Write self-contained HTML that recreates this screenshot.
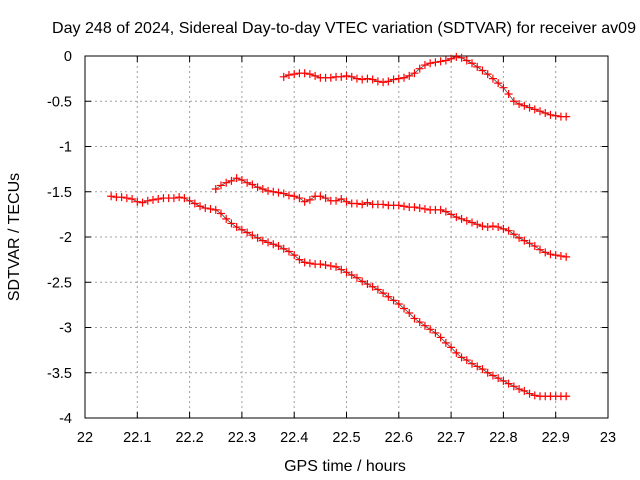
<!DOCTYPE html>
<html><head><meta charset="utf-8"><style>
body{margin:0;background:#fff}
svg{display:block;font-family:"Liberation Sans",sans-serif}
</style></head><body>
<svg id="chart" width="640" height="480" viewBox="0 0 640 480">
<rect width="640" height="480" fill="#fff"/>
<g id="grid"></g>
<g id="axes"></g>
<g id="marks"></g>
<text x="344" y="33" text-anchor="middle" font-size="16" textLength="584" lengthAdjust="spacingAndGlyphs">Day 248 of 2024, Sidereal Day-to-day VTEC variation (SDTVAR) for receiver av09</text>
<text x="345" y="471" text-anchor="middle" font-size="16">GPS time / hours</text>
<text transform="translate(19,237) rotate(-90)" text-anchor="middle" font-size="16">SDTVAR / TECUs</text>
</svg>
<script>
const xTicks=[22,22.1,22.2,22.3,22.4,22.5,22.6,22.7,22.8,22.9,23];
const xTickLabels=["22","22.1","22.2","22.3","22.4","22.5","22.6","22.7","22.8","22.9","23"];
const yTicks=[0,-0.5,-1,-1.5,-2,-2.5,-3,-3.5,-4];
const yTickLabels=["0","-0.5","-1","-1.5","-2","-2.5","-3","-3.5","-4"];
const topX=[22.38,22.39,22.40,22.41,22.42,22.43,22.44,22.45,22.46,22.47,22.48,22.49,22.50,22.51,22.52,22.53,22.54,22.55,22.56,22.57,22.58,22.59,22.60,22.61,22.62,22.63,22.64,22.65,22.66,22.67,22.68,22.69,22.70,22.71,22.72,22.73,22.74,22.75,22.76,22.77,22.78,22.79,22.80,22.81,22.82,22.83,22.84,22.85,22.86,22.87,22.88,22.89,22.90,22.91,22.92];
const topY=[-0.23,-0.21,-0.2,-0.19,-0.19,-0.2,-0.22,-0.24,-0.24,-0.24,-0.23,-0.23,-0.22,-0.23,-0.25,-0.26,-0.25,-0.26,-0.28,-0.29,-0.28,-0.26,-0.25,-0.24,-0.22,-0.19,-0.14,-0.1,-0.08,-0.07,-0.06,-0.05,-0.03,-0.01,-0.02,-0.05,-0.08,-0.12,-0.16,-0.2,-0.25,-0.3,-0.35,-0.42,-0.5,-0.53,-0.55,-0.57,-0.59,-0.61,-0.63,-0.65,-0.66,-0.67,-0.67];
const midX=[22.25,22.26,22.27,22.28,22.29,22.30,22.31,22.32,22.33,22.34,22.35,22.36,22.37,22.38,22.39,22.40,22.41,22.42,22.43,22.44,22.45,22.46,22.47,22.48,22.49,22.50,22.51,22.52,22.53,22.54,22.55,22.56,22.57,22.58,22.59,22.60,22.61,22.62,22.63,22.64,22.65,22.66,22.67,22.68,22.69,22.70,22.71,22.72,22.73,22.74,22.75,22.76,22.77,22.78,22.79,22.80,22.81,22.82,22.83,22.84,22.85,22.86,22.87,22.88,22.89,22.90,22.91,22.92];
const midY=[-1.47,-1.43,-1.4,-1.38,-1.35,-1.37,-1.4,-1.42,-1.45,-1.47,-1.49,-1.5,-1.51,-1.52,-1.54,-1.55,-1.57,-1.61,-1.59,-1.55,-1.55,-1.57,-1.6,-1.6,-1.58,-1.61,-1.63,-1.63,-1.64,-1.62,-1.64,-1.64,-1.64,-1.65,-1.65,-1.65,-1.66,-1.67,-1.67,-1.68,-1.69,-1.7,-1.7,-1.7,-1.72,-1.75,-1.78,-1.8,-1.82,-1.84,-1.86,-1.88,-1.89,-1.88,-1.89,-1.91,-1.93,-1.97,-2.01,-2.04,-2.07,-2.1,-2.14,-2.17,-2.19,-2.2,-2.21,-2.22];
const lowX=[22.05,22.06,22.07,22.08,22.09,22.10,22.11,22.12,22.13,22.14,22.15,22.16,22.17,22.18,22.19,22.20,22.21,22.22,22.23,22.24,22.25,22.26,22.27,22.28,22.29,22.30,22.31,22.32,22.33,22.34,22.35,22.36,22.37,22.38,22.39,22.40,22.41,22.42,22.43,22.44,22.45,22.46,22.47,22.48,22.49,22.50,22.51,22.52,22.53,22.54,22.55,22.56,22.57,22.58,22.59,22.60,22.61,22.62,22.63,22.64,22.65,22.66,22.67,22.68,22.69,22.70,22.71,22.72,22.73,22.74,22.75,22.76,22.77,22.78,22.79,22.80,22.81,22.82,22.83,22.84,22.85,22.86,22.87,22.88,22.89,22.90,22.91,22.92];
const lowY=[-1.55,-1.56,-1.56,-1.57,-1.58,-1.61,-1.62,-1.6,-1.59,-1.58,-1.57,-1.57,-1.57,-1.56,-1.57,-1.6,-1.63,-1.66,-1.68,-1.69,-1.7,-1.74,-1.8,-1.85,-1.89,-1.92,-1.95,-1.98,-2.01,-2.04,-2.06,-2.08,-2.1,-2.13,-2.16,-2.2,-2.25,-2.28,-2.29,-2.3,-2.3,-2.31,-2.32,-2.33,-2.36,-2.39,-2.42,-2.45,-2.49,-2.52,-2.55,-2.58,-2.62,-2.66,-2.7,-2.74,-2.79,-2.84,-2.9,-2.94,-2.98,-3.02,-3.06,-3.11,-3.17,-3.22,-3.28,-3.33,-3.36,-3.4,-3.43,-3.46,-3.5,-3.53,-3.56,-3.59,-3.62,-3.65,-3.68,-3.7,-3.73,-3.75,-3.76,-3.76,-3.76,-3.76,-3.76,-3.76];

const L=85,R=608,T=56,B=418;
const sx=v=>L+(v-22)/(23-22)*(R-L);
const sy=v=>T+(0-v)/(0-(-4))*(B-T);
const NS="http://www.w3.org/2000/svg";
function mk(tag,attrs,parent){const e=document.createElementNS(NS,tag);for(const k in attrs)e.setAttribute(k,attrs[k]);parent.appendChild(e);return e;}
const grid=document.getElementById('grid'),axes=document.getElementById('axes'),marks=document.getElementById('marks');
xTicks.forEach((t,i)=>{
  const x=sx(t);
  if(i>0&&i<xTicks.length-1){const g=mk('line',{x1:x,x2:x,y1:T,y2:B,stroke:'#a0a0a0','stroke-dasharray':'2,3'},grid);
  
  }
  mk('line',{x1:x,x2:x,y1:B,y2:B-6,stroke:'#000'},axes);
  mk('line',{x1:x,x2:x,y1:T,y2:T+6,stroke:'#000'},axes);
  const tx=mk('text',{x:x,y:B+24,'text-anchor':'middle','font-size':14.5},axes);
  tx.textContent=xTickLabels[i];
  
  
});
yTicks.forEach((t,i)=>{
  const y=sy(t);
  if(i>0&&i<yTicks.length-1){const g=mk('line',{x1:L,x2:R,y1:y,y2:y,stroke:'#a0a0a0','stroke-dasharray':'2,3'},grid);
  
  }
  mk('line',{x1:L,x2:L+6,y1:y,y2:y,stroke:'#000'},axes);
  mk('line',{x1:R,x2:R-6,y1:y,y2:y,stroke:'#000'},axes);
  const tx=mk('text',{x:L-13,y:y+5,'text-anchor':'end','font-size':14.5},axes);
  tx.textContent=yTickLabels[i];
  
  
});
const fr=mk('rect',{x:L,y:T,width:R-L,height:B-T,fill:'none',stroke:'#000'},axes);


function series(xs,ys,name){
  const g=mk('g',{},marks);
  
  
  let d='';
  xs.forEach((x,i)=>{d+=(i?'L':'M')+sx(x)+','+sy(ys[i]);});
  mk('path',{d:d,fill:'none',stroke:'#444','stroke-width':0.8},g);
  xs.forEach((x,i)=>{
    const px=sx(x),py=sy(ys[i]);
    const p=mk('path',{d:`M${px-4},${py}H${px+4}M${px},${py-4}V${py+4}`,stroke:'#f00','stroke-width':1.2},g);
    
    
  });
}
series(topX,topY,'series-top');
series(midX,midY,'series-middle');
series(lowX,lowY,'series-bottom');
</script>
</body></html>
